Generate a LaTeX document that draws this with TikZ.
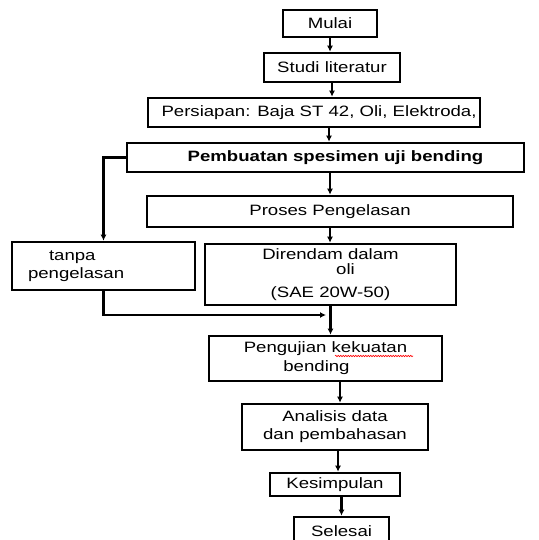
\documentclass[tikz,border=0pt]{standalone}
\usepackage{fontspec}
\setmainfont{Liberation Sans}[FakeStretch=1.24]
\usetikzlibrary{arrows.meta,decorations.pathmorphing}
\tikzset{
  box/.style={draw, line width=2.6pt, inner sep=0pt, align=center, font=\fontsize{15}{18}\selectfont},
  flow/.style={line width=2.4pt, -{Latex[length=6pt,width=6pt]}}
}
\begin{document}
\begin{tikzpicture}[x=1pt,y=-1pt]
\useasboundingbox (0,0) rectangle (538,540);
\node[box, minimum width=94pt, minimum height=27pt] (mulai) at (330,23.5) {Mulai};
\node[box, minimum width=136pt, minimum height=29pt] (studi) at (332,67.5) {Studi literatur};
\node[box, minimum width=332pt, minimum height=29pt] (persiapan) at (314,112.5) {\hspace*{10pt}Persiapan: Baja ST 42, Oli, Elektroda,};
\node[box, minimum width=397pt, minimum height=29pt] (pembuatan) at (325.5,157.5) {\hspace*{20pt}\bfseries Pembuatan spesimen uji bending};
\node[box, minimum width=366pt, minimum height=31pt] (proses) at (330,211.5) {Proses Pengelasan};
\node[box, text width=151pt, inner xsep=16pt, align=left, minimum height=48pt] (tanpa) at (103.5,266) {\hspace*{21pt}tanpa\\pengelasan};
\node[box, minimum width=251pt, minimum height=61pt] (direndam) at (330.5,274.5) {Direndam dalam\\[-3pt]\hspace*{30pt}oli\\[5pt](SAE 20W-50)};
\node[box, minimum width=233pt, minimum height=45pt] (pengujian) at (325.5,358.5) {Pengujian kekuatan\\[1pt]bending\hspace*{18pt}};
\node[box, minimum width=186pt, minimum height=46pt] (analisis) at (335,427) {Analisis data\\dan pembahasan};
\node[box, minimum width=130pt, minimum height=23pt] (kesimpulan) at (335,484.5) {Kesimpulan};
\node[box, minimum width=95pt, minimum height=28pt] (selesai) at (341.5,531) {Selesai};
\coordinate (merge) at (326,315);

\draw[flow] (mulai.south) -- (mulai.south |- studi.north);
\draw[flow] (studi.south) -- (studi.south |- persiapan.north);
\draw[flow] ([xshift=15pt]persiapan.south) -- ([xshift=15pt]persiapan.south |- pembuatan.north);
\draw[flow] (proses.north |- pembuatan.south) -- (proses.north);
\draw[flow] (pembuatan.west) -| (tanpa.north);
\draw[flow] (proses.south) -- (proses.south |- direndam.north);
\draw[flow] (tanpa.south) |- (merge);
\draw[flow] (direndam.south) -- (direndam.south |- pengujian.north);
\draw[flow] ([xshift=5pt]analisis.north |- pengujian.south) -- ([xshift=5pt]analisis.north);
\draw[flow] ([xshift=3pt]kesimpulan.north |- analisis.south) -- ([xshift=3pt]kesimpulan.north);
\draw[flow] (selesai.north |- kesimpulan.south) -- (selesai.north);
\draw[red, line width=0.6pt, decorate, decoration={snake, amplitude=0.7pt, segment length=2.5pt}] (335,356) -- (413,356);
\end{tikzpicture}
\end{document}
